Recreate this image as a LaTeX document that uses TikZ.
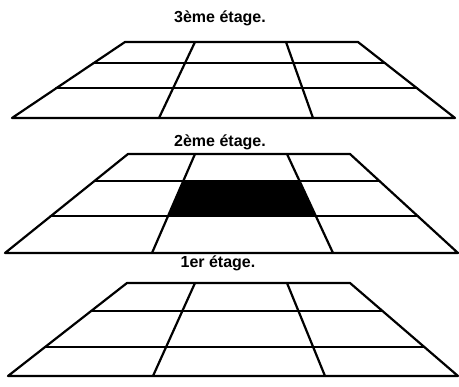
\documentclass[tikz,border=0pt]{standalone}
\usepackage{fontspec}
\setmainfont{Liberation Sans}
\usetikzlibrary{calc}

\begin{document}
\begin{tikzpicture}[
    x=1pt, y=-1pt,
    grille/.style={line width=2.2pt, line join=round, line cap=round},
    titre/.style={font=\fontsize{16}{18}\selectfont\bfseries, inner sep=0pt}
]
\useasboundingbox (0,0) rectangle (459,387);

% 3eme etage
\node[titre] (t3) at (220,18) {3ème étage.};
\coordinate (a3) at (125,42);  \coordinate (b3) at (358,42);
\coordinate (c3) at (455,118); \coordinate (d3) at (12,118);
\coordinate (p3) at (195,42);  \coordinate (q3) at (286,42);
\coordinate (r3) at (313,118); \coordinate (s3) at (159,118);
\draw[grille] (a3) -- (b3) -- (c3) -- (d3) -- cycle;
\draw[grille] (p3) -- (s3) (q3) -- (r3);
\foreach \f in {0.28,0.61}
  \draw[grille] ($(a3)!\f!(d3)$) -- ($(b3)!\f!(c3)$);

% 2eme etage
\node[titre] (t2) at (220,142) {2ème étage.};
\coordinate (a2) at (128,154); \coordinate (b2) at (350,154);
\coordinate (c2) at (458,253); \coordinate (d2) at (5,253);
\coordinate (p2) at (195,154); \coordinate (q2) at (287,154);
\coordinate (r2) at (333,253); \coordinate (s2) at (152,253);
\fill ($(p2)!0.27!(s2)$) -- ($(q2)!0.27!(r2)$) -- ($(q2)!0.63!(r2)$) -- ($(p2)!0.63!(s2)$) -- cycle;
\draw[grille] (a2) -- (b2) -- (c2) -- (d2) -- cycle;
\draw[grille] (p2) -- (s2) (q2) -- (r2);
\foreach \f in {0.27,0.63}
  \draw[grille] ($(a2)!\f!(d2)$) -- ($(b2)!\f!(c2)$);

% 1er etage
\node[titre] (t1) at (218,263) {1er étage.};
\coordinate (a1) at (127,283); \coordinate (b1) at (350,283);
\coordinate (c1) at (458,376); \coordinate (d1) at (8,376);
\coordinate (p1) at (195,283); \coordinate (q1) at (287,283);
\coordinate (r1) at (325,376); \coordinate (s1) at (153,376);
\draw[grille] (a1) -- (b1) -- (c1) -- (d1) -- cycle;
\draw[grille] (p1) -- (s1) (q1) -- (r1);
\foreach \f in {0.30,0.69}
  \draw[grille] ($(a1)!\f!(d1)$) -- ($(b1)!\f!(c1)$);
\end{tikzpicture}
\end{document}
